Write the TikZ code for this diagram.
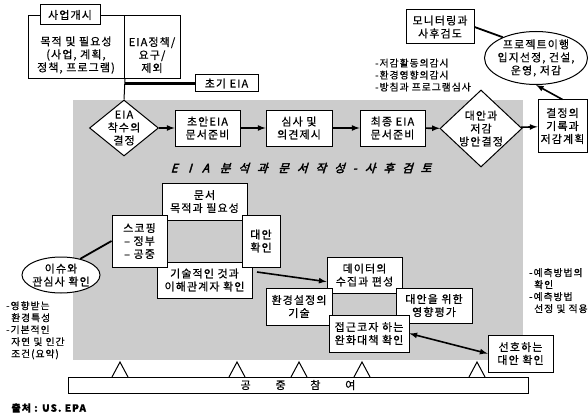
\documentclass[tikz,border=0pt]{standalone}
\usepackage{fontspec}
\setmainfont[LetterSpace=10,FakeBold=0.5]{Noto Sans CJK KR}
\newfontfamily\titlefont[FakeSlant=0.3,FakeBold=3,LetterSpace=70]{Noto Sans CJK KR}
\usetikzlibrary{shapes.geometric,positioning}

\begin{document}
\begin{tikzpicture}
        [x=1pt, y=-1pt, font=\fontsize{11}{13}\selectfont,
         block/.style={draw, fill=white, align=center, inner sep=0.5pt, line width=1pt},
         decision/.style={draw, fill=white, diamond, inner sep=0pt, line width=1pt},
         oval/.style={draw, fill=white, ellipse, align=center, inner sep=-8pt, line width=1pt},
         notes/.style={align=left, inner sep=0pt, font=\fontsize{9.8}{12}\selectfont},
         arrow/.style={-latex, line width=1.6pt},
         link/.style={line width=1.8pt}]

        \useasboundingbox (0,0) rectangle (588,417);
        % shaded analysis area
        \fill[gray!40] (73,100) rectangle (523,360);

        % project start
        \node [block, anchor=north west, minimum width=96, minimum height=63] (purpose) at (28,15) {};
        \node [block, anchor=north west, minimum width=56, minimum height=63] (policy)  at (124,15) {};
        \node [align=center] (purposetext) at (76,55) {목적 및 필요성\\(사업, 계획,\\정책, 프로그램)};
        \node [align=center] (policytext)  at (152,55) {EIA정책/\\요구/\\제외};
        \node [block, minimum width=60, minimum height=20] (start)   at (70,15)     {사업개시};
        \node [block, minimum width=63, minimum height=17] (initial) at (226.5,83.5) {초기 EIA};

        % main row
        \node [decision, minimum width=69, minimum height=56,
               label={[align=center]center:EIA\\착수의\\결정}] (decide) at (124,128) {};
        \node [block, minimum width=65, minimum height=36] (draft)  at (207.5,128) {초안EIA\\문서준비};
        \node [block, minimum width=66, minimum height=36] (review) at (299,128)   {심사 및\\의견제시};
        \node [block, minimum width=65, minimum height=36] (final)  at (392.5,128) {최종 EIA\\문서준비};
        \node [decision, minimum width=82, minimum height=77,
               label={[align=center]center:대안과\\저감\\방안결정}] (choose) at (481,128.5) {};
        \node [block, minimum width=49, minimum height=52] (record) at (562.5,126) {결정의\\기록과\\저감계획};

        % follow-up
        \node [oval, minimum width=103, minimum height=53] (implement) at (536,58) {프로젝트이행\\입지선정, 건설,\\운영, 저감};
        \node [block, minimum width=68, minimum height=34] (monitor) at (440,27) {모니터링과\\사후검도};
        \node [notes, anchor=west] (monnotes) at (375,75) {-저감활동의감시\\-환경영향의감시\\-방침과 프로그램심사};

        \node (title) at (301,168) {\fontsize{11.5}{13}\titlefont E I A 분석과 문서작성-사후검토};

        % analysis boxes
        \node [block, minimum width=85, minimum height=37] (docneed)   at (204.5,201.5) {문서\\목적과 필요성};
        \node [block, minimum width=95, minimum height=36] (technical) at (204.5,280)   {기술적인 것과\\이해관계자 확인};
        \node [block, minimum width=55, minimum height=52] (scoping)   at (139.5,241)   {스코핑\\– 정부\\– 공중};
        \node [block, minimum width=38, minimum height=52] (alter)     at (261,241)     {대안\\확인};
        \node [oval, minimum width=78, minimum height=36] (issues)     at (61,275)      {이슈와\\관심사 확인};
        \node [notes, anchor=north west] (envnotes) at (6,301)
              {-영향받는\\\hspace*{5pt}환경특성\\-기본적인\\\hspace*{5pt}자연 및 인간\\\hspace*{5pt}조건(요약)};

        \node [block, minimum width=75, minimum height=36] (data)    at (364.5,275) {데이터의\\수집과 편성};
        \node [block, minimum width=66, minimum height=37] (setting) at (299,306.5) {환경설정의\\기술};
        \node [block, minimum width=76, minimum height=35] (impact)  at (434,305.5) {대안을 위한\\영향평가};
        \node [block, minimum width=80, minimum height=37] (mitig)   at (369,333.5) {접근코자 하는\\완화대책 확인};
        \node [block, minimum width=65, minimum height=37] (prefer)  at (520.5,353.5) {선호하는\\대안 확인};
        \node [notes, anchor=north west] (prednotes) at (529,268)
              {-예측방법의\\\hspace*{5pt}확인\\-예측방법\\\hspace*{5pt}선정 및 적용};

        % public participation
        \node [block, minimum width=460, minimum height=16, inner sep=0pt] (public) at (298,385)
              {공\hspace{2.25em}중\hspace{2.25em}참\hspace{2.25em}여};
        \foreach \x in {120,237,299,362,477}
            \draw [line width=1pt] ({\x-8},377) -- (\x,362) -- ({\x+8},377);

        \node [anchor=west, font=\fontsize{10}{12}\selectfont\bfseries] (source) at (8,408) {출처 : US. EPA};

        % connectors
        \draw [line width=1pt] (purpose.south east) -- (decide.north);
        \draw [line width=2.5pt] (purpose.south east |- initial.west) -- (initial.west);
        \foreach \a/\b in {decide/draft, draft/review, review/final, final/choose, choose/record}
            \draw [arrow] (\a) -- (\b);
        \draw [arrow] (record.north) -- (implement.south);
        \draw [link] (implement.148) -- (monitor.east);
        \draw [link] (issues.40) -- (scoping.west);
        \coordinate (techout) at (257,272);
        \draw [arrow] (techout) -- (data.190);
        \draw [arrow, latex-latex] (mitig.east) -- (prefer.west);
\end{tikzpicture}
\end{document}
